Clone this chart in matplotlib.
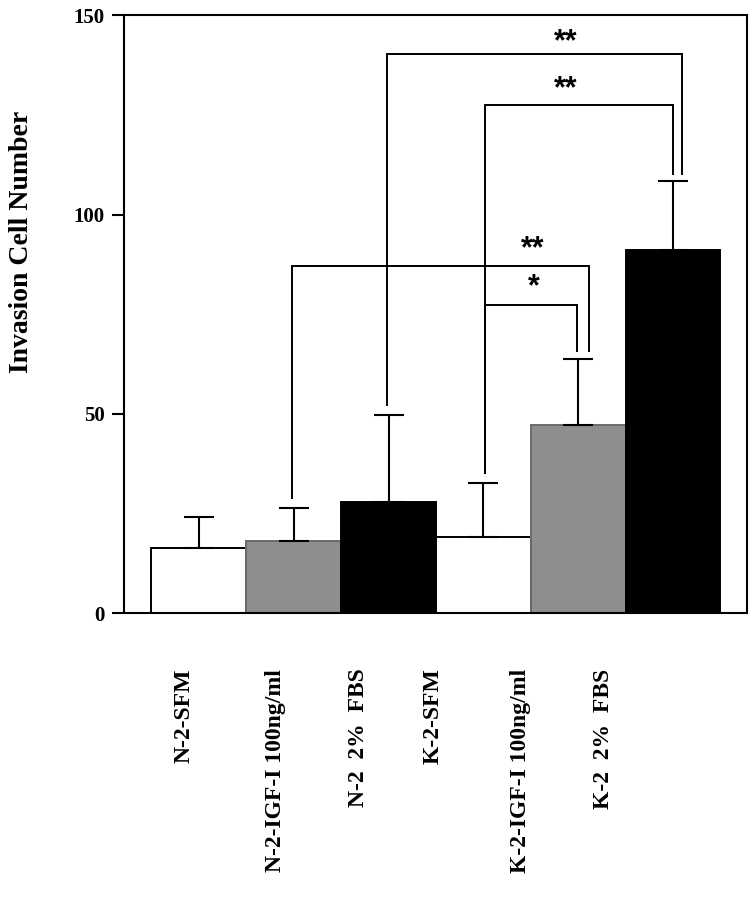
import matplotlib.pyplot as plt
import numpy as np

# Data
groups = ["N-2-SFM", "N-2-IGF-I 100ng/ml", "N-2  2%  FBS",
          "K-2-SFM", "K-2-IGF-I 100ng/ml", "K-2  2%  FBS"]
means = [16.3, 18.1, 27.9, 19.1, 47.2, 91.0]
err_up = [7.8, 8.3, 21.8, 13.6, 16.6, 17.3]
colors = ["white", "#8e8e8e", "black", "white", "#8e8e8e", "black"]
edges = ["black", "#6a6a6a", "black", "black", "#6a6a6a", "black"]

# significance comparisons: (left bar, right bar, label)
comparisons = [(1, 4, "**"), (3, 4, "*"), (3, 5, "**"), (2, 5, "**")]

plt.rcParams["font.family"] = ["Liberation Serif", "DejaVu Serif"]
plt.rcParams["font.weight"] = "bold"

fig = plt.figure(figsize=(7.56, 8.99), dpi=100)
ax = fig.add_axes([0.164, 0.318, 0.824, 0.665])

x = np.arange(len(means))
ax.bar(x, means, width=1.0, color=colors, edgecolor=edges, linewidth=1.4, zorder=2)
ax.errorbar(x, means, yerr=[np.zeros(len(means)), err_up], fmt="none",
            ecolor="black", elinewidth=1.5, capsize=11, capthick=1.5, zorder=3)

# bracket layout (x offsets at the ends, bar height, label height, label x)
bracket_geo = [
    (-0.02, 0.11, 87.2, 91.2, 3.52),
    (0.02, -0.01, 77.4, 81.7, 3.53),
    (0.02, 0.0, 127.6, 131.4, 3.87),
    (-0.02, 0.10, 140.2, 143.2, 3.87),
]
tops = np.array(means) + np.array(err_up)
for (i, j, lab), (dl, dr, yb, yt, xt) in zip(comparisons, bracket_geo):
    xl, xr = i + dl, j + dr
    ax.plot([xl, xl, xr, xr], [tops[i] + 2.5, yb, yb, tops[j] + 2.0],
            color="black", lw=1.4, zorder=4, solid_joinstyle="miter")
    ax.text(xt, yt, lab, ha="center", va="center", fontsize=22,
            family=["Liberation Sans", "DejaVu Sans"], fontweight="bold")

ax.set_xlim(-0.79, 5.78)
ax.set_ylim(0, 150)
ax.set_yticks([0, 50, 100, 150])
ax.tick_params(axis="y", direction="out", length=9, width=1.5, labelsize=15, pad=5)
label_pos = [-0.16, 0.81, 1.68, 2.47, 3.39, 4.27]
ax.set_xticks(label_pos)
ax.set_xticklabels(groups, rotation=90, fontsize=17, va="top", ha="center")
ax.tick_params(axis="x", length=0, pad=40)
for s in ax.spines.values():
    s.set_linewidth(1.5)

fig.text(0.029, 1 - 242 / 899, "Invasion Cell Number", rotation=90,
         ha="center", va="center", fontsize=20, fontweight="bold")

fig.savefig("out.png", dpi=100)
